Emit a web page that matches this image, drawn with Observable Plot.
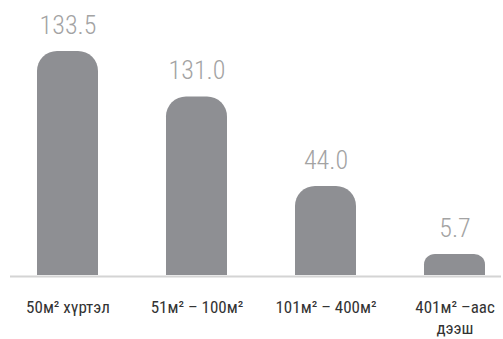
<!DOCTYPE html>
<html>
<head>
<meta charset="utf-8">
<script src="https://cdn.jsdelivr.net/npm/d3@7"></script>
<script src="https://cdn.jsdelivr.net/npm/@observablehq/plot@0.6"></script>
<style>
  html, body { margin: 0; padding: 0; background: #fff; }
  #chart { width: 503px; height: 339px; }
</style>
</head>
<body>
<div id="chart"></div>
<script>
// Categories (x labels)
const categories = ["50м² хүртэл", "51м² – 100м²", "101м² – 400м²", "401м² –аас\nдээш"];
// Value labels shown above bars
const values = [133.5, 131.0, 44.0, 5.7];
// Bar lengths as drawn in the picture (relative units, not proportional to labels)
const barLengths = [224, 178.5, 89, 21];

const data = categories.map((c, i) => ({ cat: c, value: values[i], len: barLengths[i] }));

const font = "'Roboto Condensed', 'Liberation Sans Narrow', 'Arial Narrow', sans-serif";

const chart = Plot.plot({
  width: 503,
  height: 339,
  marginLeft: 10,
  marginRight: 2,
  marginTop: 0,
  marginBottom: 63,
  style: { fontFamily: font, background: "#fff", overflow: "visible" },
  x: { domain: categories, range: [24, 498], paddingInner: 0.53, paddingOuter: 0.1, axis: null },
  y: { domain: [0, 224], range: [275, 51], axis: null },
  marks: [
    Plot.barY(data, { x: "cat", y: "len", fill: "#8e8f93", rx: 20, filter: d => d.len > 40 }),
    Plot.barY(data, { x: "cat", y: "len", fill: "#8e8f93", rx: 11, filter: d => d.len <= 40 }),
    Plot.barY(data, { x: "cat", y1: 0, y2: d => d.len / 2, fill: "#8e8f93" }),
    Plot.ruleY([0], { stroke: "#d4d4d4", strokeWidth: 2, dy: 1 }),
    Plot.text(data, {
      x: "cat", y: "len", text: d => d.value.toFixed(1),
      dy: -18, lineAnchor: "bottom", fill: "#a3a3a3",
      fontSize: 26, fontWeight: 300, fontFamily: font
    }),
    Plot.text(data, {
      x: "cat", y: () => 0, text: "cat",
      dy: 22, lineAnchor: "top", lineHeight: 1.25, fill: "#333",
      fontSize: 17, fontWeight: 400, fontFamily: font
    })
  ]
});
document.getElementById("chart").appendChild(chart);
</script>
</body>
</html>
